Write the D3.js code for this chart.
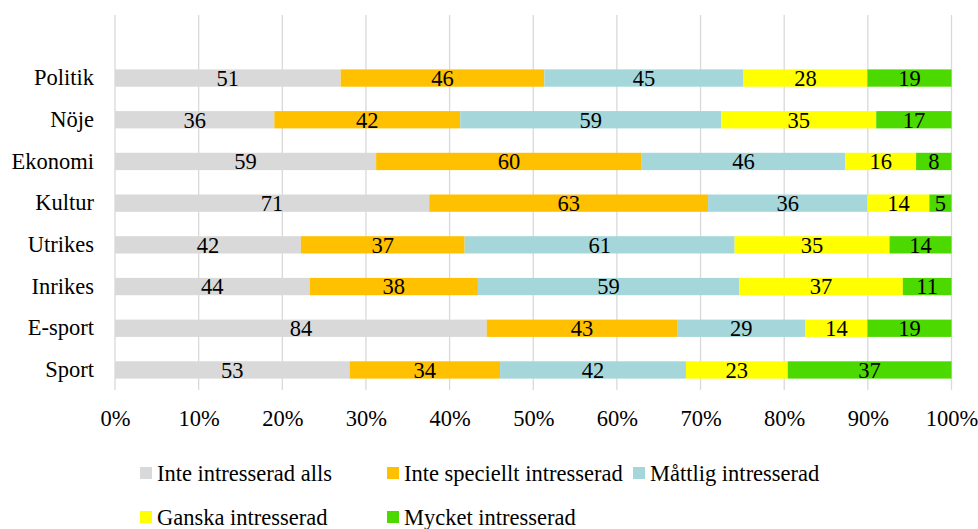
<!DOCTYPE html>
<html>
<head>
<meta charset="utf-8">
<script src="https://cdn.jsdelivr.net/npm/d3@7"></script>
<style>
  html, body { margin: 0; padding: 0; background: #fff; }
  svg { display: block; }
  svg text { font-family: 'Liberation Serif', 'Times New Roman', serif; }
</style>
</head>
<body>
<svg id="chart" width="978" height="529"></svg>
<script>
// Topics, top to bottom
const categories = ["Politik", "Nöje", "Ekonomi", "Kultur", "Utrikes", "Inrikes", "E-sport", "Sport"];

// Interest levels (stack order, left to right)
const seriesNames = [
  "Inte intresserad alls",
  "Inte speciellt intresserad",
  "Måttlig intresserad",
  "Ganska intresserad",
  "Mycket intresserad"
];

// Number of answers per level, one array per level, in category order
const inteAlls       = [51, 36, 59, 71, 42, 44, 84, 53];
const inteSpeciellt  = [46, 42, 60, 63, 37, 38, 43, 34];
const mattlig        = [45, 59, 46, 36, 61, 59, 29, 42];
const ganska         = [28, 35, 16, 14, 35, 37, 14, 23];
const mycket         = [19, 17,  8,  5, 14, 11, 19, 37];

const tickValues = [0, 0.1, 0.2, 0.3, 0.4, 0.5, 0.6, 0.7, 0.8, 0.9, 1.0];

const colors = ["#d9d9d9", "#ffc000", "#a5d6da", "#ffff00", "#4cd900"];

const seriesValues = [inteAlls, inteSpeciellt, mattlig, ganska, mycket];
const rows = categories.map((c, i) => {
  const r = { category: c };
  seriesNames.forEach((s, j) => { r[s] = seriesValues[j][i]; });
  return r;
});

const svg = d3.select("#chart");

const x = d3.scaleLinear().domain([0, 1]).range([115, 951.5]);
const y = d3.scaleBand().domain(categories).range([57.2, 390.8]).paddingInner(0.585).paddingOuter(0.2925);

// Vertical gridlines
svg.append("g")
  .selectAll("line")
  .data(tickValues)
  .join("line")
  .attr("x1", d => x(d)).attr("x2", d => x(d))
  .attr("y1", 15).attr("y2", 390)
  .attr("stroke", "#d9d9d9")
  .attr("stroke-width", 1.3);

// Stack normalised to 100 %
const stack = d3.stack().keys(seriesNames).offset(d3.stackOffsetExpand);
const layers = stack(rows);

const layerG = svg.append("g")
  .selectAll("g")
  .data(layers)
  .join("g")
  .attr("fill", (d, i) => colors[i]);

layerG.selectAll("rect")
  .data(d => d.map(p => ({ p, key: d.key })))
  .join("rect")
  .attr("x", d => x(d.p[0]))
  .attr("width", d => x(d.p[1]) - x(d.p[0]))
  .attr("y", d => y(d.p.data.category))
  .attr("height", y.bandwidth());

// Value labels centred in each segment
layerG.selectAll("text")
  .data(d => d.map(p => ({ p, key: d.key })))
  .join("text")
  .attr("x", d => (x(d.p[0]) + x(d.p[1])) / 2)
  .attr("y", d => y(d.p.data.category) + y.bandwidth() / 2)
  .attr("dy", "0.35em")
  .attr("text-anchor", "middle")
  .attr("fill", "#000")
  .attr("font-size", 22.5)
  .text(d => d.p.data[d.key]);

// Category axis
const yAxis = svg.append("g")
  .attr("transform", "translate(115,0)")
  .call(d3.axisLeft(y).tickSize(0).tickPadding(21));
yAxis.select(".domain").remove();
yAxis.attr("font-family", null).attr("font-size", null);
yAxis.selectAll("text")
  .attr("font-size", 22.5)
  .attr("fill", "#000");

// Percentage axis
const xAxis = svg.append("g")
  .attr("transform", "translate(0,390)")
  .call(d3.axisBottom(x).tickValues(tickValues).tickFormat(d3.format(".0%")).tickSize(0).tickPadding(20));
xAxis.select(".domain").remove();
xAxis.attr("font-family", null).attr("font-size", null);
xAxis.selectAll("text")
  .attr("font-size", 22.5)
  .attr("fill", "#000");

// Legend
const legendPos = [
  [140, 473], [387, 473], [633, 473],
  [140, 517], [387, 517]
];
const legend = svg.append("g")
  .selectAll("g")
  .data(seriesNames)
  .join("g")
  .attr("transform", (d, i) => `translate(${legendPos[i][0]},${legendPos[i][1]})`);
legend.append("rect")
  .attr("x", 0).attr("y", -6)
  .attr("width", 12).attr("height", 12)
  .attr("fill", (d, i) => colors[i]);
legend.append("text")
  .attr("x", 17)
  .attr("dy", "0.35em")
  .attr("font-size", 22.5)
  .attr("fill", "#000")
  .text(d => d);
</script>
</body>
</html>
